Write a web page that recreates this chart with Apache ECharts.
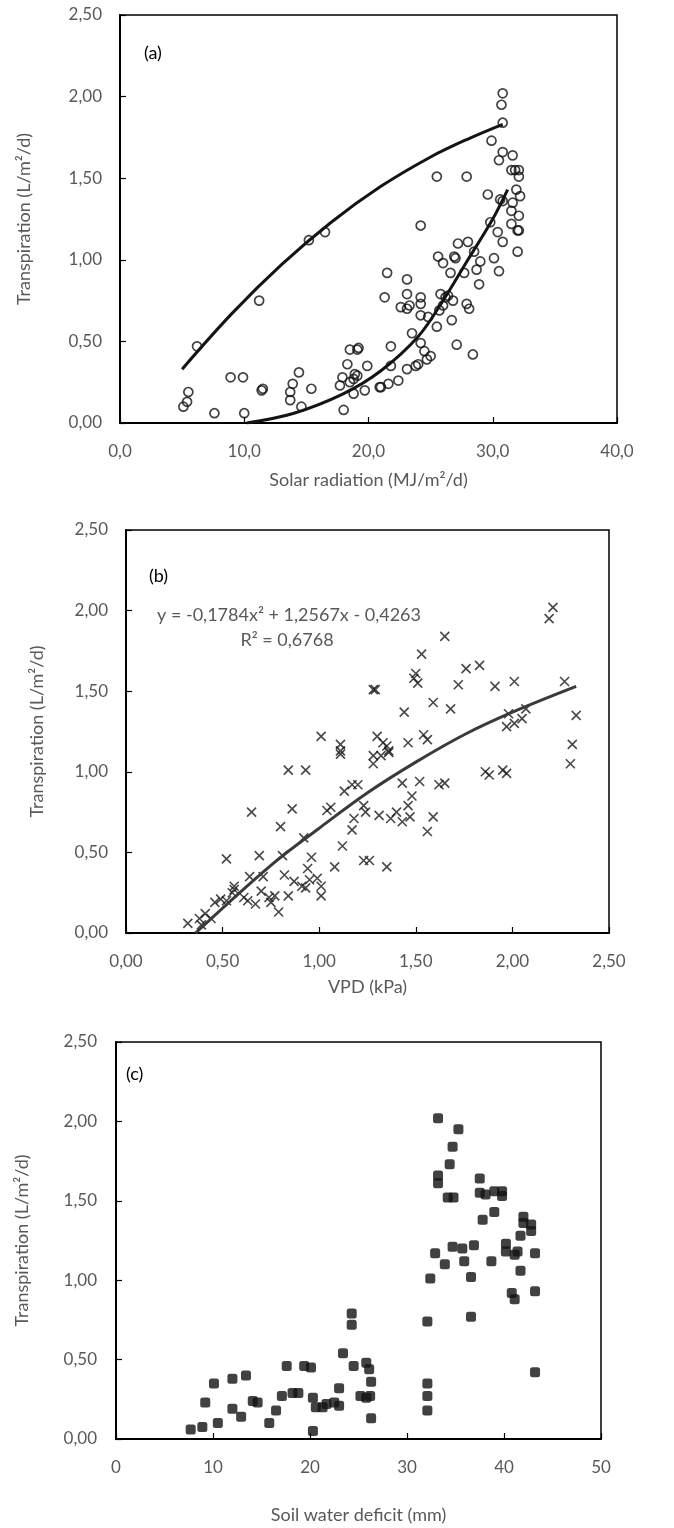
<!DOCTYPE html>
<html>
<head>
<meta charset="utf-8">
<script src="https://cdn.jsdelivr.net/npm/echarts@6/dist/echarts.min.js"></script>
<style>
  html, body { margin: 0; padding: 0; background: #fff; }
  #chart { width: 674px; height: 1528px; }
</style>
</head>
<body>
<div id="chart"></div>
<script>
// (a) transpiration vs solar radiation, [MJ/m2/d, L/m2/d]
const radiationPts = [
  [5.1,0.10],[5.4,0.13],[5.5,0.19],[6.2,0.47],[7.6,0.06],[8.9,0.28],[9.9,0.28],[10.0,0.06],
  [11.2,0.75],[11.4,0.20],[11.5,0.21],[13.7,0.19],[13.7,0.14],[13.9,0.24],[14.4,0.31],[14.6,0.10],
  [15.2,1.12],[15.4,0.21],[16.5,1.17],[17.7,0.23],[18.0,0.08],[17.9,0.28],[18.3,0.36],[18.5,0.45],
  [19.1,0.45],[19.2,0.46],[18.5,0.25],[18.8,0.18],[18.9,0.30],[19.1,0.29],[18.8,0.27],[19.7,0.20],
  [19.9,0.35],[20.9,0.22],[21.0,0.22],[21.3,0.77],[21.5,0.92],[21.6,0.24],[21.8,0.47],[21.8,0.35],
  [22.4,0.26],[22.6,0.71],[23.1,0.33],[23.1,0.88],[23.1,0.79],[23.1,0.70],[23.3,0.72],[23.5,0.55],
  [23.8,0.35],[24.0,0.36],[24.2,1.21],[24.2,0.77],[24.2,0.73],[24.2,0.66],[24.2,0.49],[24.5,0.44],
  [24.7,0.39],[25.0,0.41],[24.8,0.65],[25.5,0.59],[25.5,1.51],[25.6,1.02],[25.8,0.79],[25.7,0.69],
  [26.0,0.98],[26.0,0.72],[26.2,0.77],[26.4,0.78],[26.6,0.92],[26.7,0.63],[26.8,0.75],[26.9,1.02],
  [27.0,1.01],[27.1,0.48],[27.2,1.10],[27.7,0.92],[27.9,0.73],[27.9,1.51],[28.1,0.70],[28.0,1.11],
  [28.4,0.42],[28.5,1.05],[28.7,0.94],[28.9,0.85],[29.0,0.99],[29.6,1.40],[29.8,1.23],[29.9,1.73],
  [30.1,1.01],[30.4,1.17],[30.5,0.93],[30.5,1.61],[30.6,1.37],[30.7,1.95],[30.8,2.02],[30.8,1.84],
  [30.8,1.66],[30.8,1.36],[30.8,1.11],[31.5,1.55],[31.5,1.30],[31.5,1.22],[31.6,1.64],[31.6,1.35],
  [31.8,1.55],[31.9,1.43],[32.0,1.18],[32.0,1.05],[32.1,1.55],[32.1,1.51],[32.1,1.27],[32.1,1.18],
  [32.2,1.39]
]
const upperFit = [[5.0,0.33],[9.0,0.67],[13.0,0.97],[17.0,1.23],[21.0,1.45],[25.0,1.63],[28.0,1.74],[30.8,1.83]]
const lowerFit = [[10.2,0.0],[14.0,0.06],[18.0,0.18],[21.0,0.32],[24.0,0.53],[26.0,0.75],[28.0,1.00],[30.0,1.25],[31.2,1.43]]

// (b) transpiration vs VPD, [kPa, L/m2/d]
const vpdPts = [
  [2.21,2.02],[2.19,1.95],[1.65,1.84],[1.53,1.73],[1.76,1.64],[1.83,1.66],[1.50,1.61],[1.49,1.58],
  [1.51,1.55],[1.28,1.51],[1.29,1.51],[1.72,1.54],[1.91,1.53],[2.01,1.56],[2.27,1.56],[1.59,1.43],
  [1.68,1.39],[1.44,1.37],[2.33,1.35],[1.97,1.28],[2.01,1.30],[2.05,1.33],[2.07,1.39],[1.98,1.36],
  [1.01,1.22],[1.11,1.17],[1.11,1.13],[1.30,1.22],[1.33,1.18],[1.35,1.16],[1.36,1.13],[1.46,1.18],
  [1.54,1.23],[1.56,1.20],[2.31,1.17],[1.28,1.10],[2.30,1.05],[1.86,1.00],[1.88,0.98],[1.95,1.01],
  [1.97,0.99],[0.84,1.01],[0.93,1.01],[1.11,1.11],[1.28,1.05],[1.32,1.10],[1.36,1.12],[1.43,0.93],
  [1.52,0.94],[1.62,0.92],[1.65,0.93],[1.48,0.85],[1.13,0.88],[1.17,0.92],[1.20,0.92],[1.46,0.79],
  [1.47,0.72],[1.59,0.72],[1.56,0.63],[1.37,0.71],[1.40,0.75],[1.43,0.69],[1.31,0.73],[1.23,0.79],
  [1.24,0.75],[1.18,0.71],[1.17,0.64],[1.04,0.76],[1.06,0.78],[0.65,0.75],[0.86,0.77],[0.80,0.66],
  [1.12,0.54],[0.92,0.59],[0.52,0.46],[0.69,0.48],[0.81,0.48],[0.96,0.47],[0.94,0.40],[1.08,0.41],
  [1.23,0.45],[1.26,0.45],[1.35,0.41],[0.64,0.35],[0.71,0.35],[0.82,0.36],[0.87,0.32],[0.91,0.29],
  [0.93,0.28],[0.99,0.34],[1.01,0.29],[1.01,0.23],[0.95,0.33],[0.56,0.29],[0.56,0.27],[0.55,0.25],
  [0.49,0.21],[0.52,0.20],[0.46,0.19],[0.61,0.22],[0.63,0.20],[0.67,0.18],[0.70,0.26],[0.74,0.22],
  [0.77,0.23],[0.75,0.19],[0.84,0.23],[0.79,0.13],[0.32,0.06],[0.38,0.09],[0.41,0.12],[0.44,0.09],
  [0.39,0.05]
]
const vpdFit = [[0.36,0.0],[0.75,0.42],[1.0,0.65],[1.25,0.87],[1.5,1.06],[1.75,1.23],[2.0,1.37],[2.33,1.53]]

// (c) transpiration vs soil water deficit, [mm, L/m2/d]
const deficitPts = [
  [33.2,2.02],[35.3,1.95],[34.7,1.84],[34.4,1.73],[33.2,1.66],[33.2,1.61],[34.2,1.52],[34.8,1.52],
  [37.5,1.64],[37.5,1.55],[38.1,1.54],[39.0,1.56],[39.8,1.56],[39.8,1.53],[39.0,1.43],[37.8,1.38],
  [42.0,1.40],[42.0,1.36],[42.8,1.35],[42.8,1.31],[41.7,1.28],[32.9,1.17],[34.7,1.21],[35.7,1.20],
  [36.9,1.22],[40.2,1.23],[40.2,1.18],[41.1,1.16],[41.4,1.18],[43.2,1.17],[33.9,1.10],[35.9,1.12],
  [38.7,1.12],[41.7,1.06],[32.4,1.01],[36.6,1.02],[40.8,0.92],[41.1,0.88],[43.2,0.93],[32.1,0.74],
  [36.6,0.77],[24.3,0.79],[24.3,0.72],[23.4,0.54],[24.5,0.46],[25.8,0.48],[26.1,0.44],[26.3,0.36],
  [23.0,0.32],[25.2,0.27],[25.8,0.26],[26.2,0.27],[26.3,0.13],[32.1,0.35],[32.1,0.27],[32.1,0.18],
  [43.2,0.42],[7.7,0.06],[8.9,0.075],[10.5,0.10],[9.2,0.23],[10.1,0.35],[12.0,0.38],[13.4,0.40],
  [12.0,0.19],[12.9,0.14],[14.1,0.24],[14.6,0.23],[15.8,0.10],[16.5,0.18],[17.1,0.27],[17.6,0.46],
  [18.2,0.29],[18.8,0.29],[19.4,0.46],[20.1,0.45],[20.3,0.26],[20.3,0.05],[20.6,0.20],[21.3,0.20],
  [21.7,0.22],[22.5,0.23],[23.0,0.21]
]

const FONT = 'Lato'
const GREY = '#595959'
const comma = d => v => v.toFixed(d).replace('.', ',')

const gridBox = g => Object.assign({ show: true, borderColor: '#000', borderWidth: 1.5 }, g)
const grids = [
  gridBox({ left: 120, top: 15, width: 497, height: 408 }),
  gridBox({ left: 126, top: 530, width: 483, height: 403 }),
  gridBox({ left: 116, top: 1042, width: 485, height: 397 })
]

function xAx(i, max, step, fmt, name, gap) {
  return {
    gridIndex: i, type: 'value', min: 0, max, interval: step,
    name, nameLocation: 'middle', nameGap: gap,
    nameTextStyle: { color: GREY, fontSize: 18, fontFamily: FONT },
    axisLine: { show: true, onZero: false, lineStyle: { color: '#000', width: 2 } },
    axisTick: { show: true, inside: true, length: 6, lineStyle: { color: '#000', width: 1.2 } },
    axisLabel: { color: GREY, fontSize: 17, fontFamily: FONT, margin: 20, formatter: fmt },
    splitLine: { show: false }
  }
}
function yAx(i, gap, margin) {
  return {
    gridIndex: i, type: 'value', min: 0, max: 2.5, interval: 0.5,
    name: 'Transpiration (L/m²/d)', nameLocation: 'middle', nameGap: gap,
    nameTextStyle: { color: GREY, fontSize: 18, fontFamily: FONT },
    axisLine: { show: true, onZero: false, lineStyle: { color: '#000', width: 2 } },
    axisTick: { show: true, inside: true, length: 6, lineStyle: { color: '#000', width: 1.2 } },
    axisLabel: { color: GREY, fontSize: 17, fontFamily: FONT, margin, formatter: comma(2) },
    splitLine: { show: false }
  }
}

const fitLine = (data, i, color) => ({
  type: 'line', data, xAxisIndex: i, yAxisIndex: i, smooth: 0.35, showSymbol: false,
  lineStyle: { color, width: 3 }, z: 3
})

const chart = echarts.init(document.getElementById('chart'), null, { renderer: 'canvas' })
chart.setOption({
  animation: false,
  backgroundColor: '#fff',
  grid: grids,
  xAxis: [
    xAx(0, 40, 10, comma(1), 'Solar radiation (MJ/m²/d)', 48),
    xAx(1, 2.5, 0.5, comma(2), 'VPD (kPa)', 45),
    xAx(2, 50, 10, v => String(v), 'Soil water deficit (mm)', 67)
  ],
  yAxis: [yAx(0, 87, 18), yAx(1, 80, 18), yAx(2, 85, 19)],
  graphic: [
    { type: 'text', left: 144, top: 44, style: { text: '(a)', fill: '#000', font: '18px ' + FONT } },
    { type: 'text', left: 149, top: 567, style: { text: '(b)', fill: '#000', font: '18px ' + FONT } },
    { type: 'text', left: 126, top: 1065, style: { text: '(c)', fill: '#000', font: '18px ' + FONT } },
    { type: 'text', x: 289, y: 615, style: { text: 'y = -0,1784x² + 1,2567x - 0,4263', fill: GREY,
      font: '18px ' + FONT, align: 'center', verticalAlign: 'middle' } },
    { type: 'text', x: 287, y: 640, style: { text: 'R² = 0,6768', fill: GREY,
      font: '18px ' + FONT, align: 'center', verticalAlign: 'middle' } }
  ],
  series: [
    { type: 'scatter', data: radiationPts, xAxisIndex: 0, yAxisIndex: 0, symbol: 'circle', symbolSize: 9,
      itemStyle: { color: 'rgba(255,255,255,0)', borderColor: '#111', borderWidth: 1.7 } },
    fitLine(upperFit, 0, '#141414'),
    fitLine(lowerFit, 0, '#141414'),
    { type: 'scatter', data: vpdPts, xAxisIndex: 1, yAxisIndex: 1,
      symbol: 'path://M0,0L10,10M10,0L0,10', symbolSize: 9,
      itemStyle: { color: 'rgba(0,0,0,0)', borderColor: '#1a1a1a', borderWidth: 1.6 } },
    fitLine(vpdFit, 1, '#3a3a3a'),
    { type: 'scatter', data: deficitPts, xAxisIndex: 2, yAxisIndex: 2, symbol: 'roundRect', symbolSize: 10,
      itemStyle: { color: '#111' } }
  ]
})
window.addEventListener('resize', () => chart.resize())
</script>
</body>
</html>
